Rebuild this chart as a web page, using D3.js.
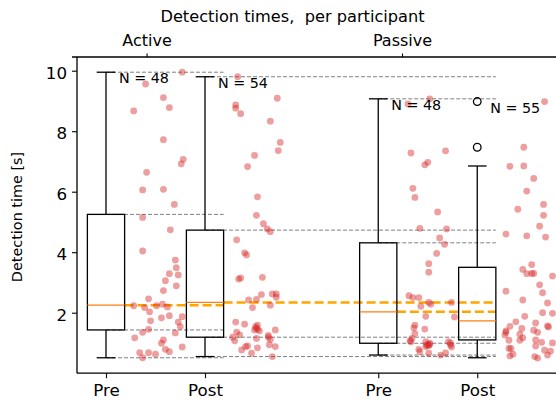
<!DOCTYPE html>
<html><head><meta charset="utf-8">
<script src="https://cdn.jsdelivr.net/npm/d3@7"></script>
<style>body{margin:0;background:#fff} svg{display:block;font-family:"DejaVu Sans",sans-serif}</style>
</head><body><svg id="c" width="556" height="404"></svg>
<script>
// ---------- data ----------
const categories = ["Pre", "Post", "Pre", "Post"];
const positions = [1, 2, 3.75, 4.75];
const groupLabels = ["Active", "Passive"];
const groupPositions = [1.41, 3.99];
const yTicks = [2, 4, 6, 8, 10];
const titleText = "Detection times,  per participant";
const yLabelText = "Detection time [s]";

// box stats: [low whisker, Q1, median, Q3, high whisker]
const activePreStats  = [0.51, 1.43, 2.25, 5.25, 9.95];
const activePostStats = [0.55, 1.19, 2.34, 4.73, 9.80];
const passivePreStats = [0.60, 0.99, 2.03, 4.31, 9.07];
const passivePostStats = [0.51, 1.10, 1.73, 3.50, 6.85];
const activePreOutliers = [];
const activePostOutliers = [];
const passivePreOutliers = [];
const passivePostOutliers = [8.98, 7.47];
// index of the box each group's reference lines run to
const compareTo = [1, 3, 3, null];

const activePreTimes = [9.95,9.56,9.11,8.78,8.67,7.72,7.07,6.92,6.64,6.06,6.08,5.58,5.15,4.74,4.04,3.74,3.49,3.29,3.25,3.06,2.89,2.73,2.46,2.23,2.17,2.23,2.28,2.19,2.03,1.90,1.83,1.87,1.73,1.69,1.54,1.45,1.35,1.33,1.17,1.10,0.99,0.87,0.79,0.71,0.68,0.68,0.63,0.51];
const activePreJitter = [0.77,0.40,0.58,0.64,0.28,0.58,0.78,0.76,0.41,0.37,0.58,0.69,0.37,0.65,0.37,0.70,0.71,0.64,0.73,0.60,0.71,0.58,0.43,0.28,0.39,0.51,0.57,0.62,0.44,0.64,0.56,0.77,0.45,0.73,0.75,0.43,0.37,0.70,0.29,0.58,0.56,0.77,0.60,0.64,0.34,0.43,0.50,0.37];

const activePostTimes = [9.80,9.09,8.87,8.76,8.58,8.33,7.63,7.36,7.20,6.83,5.83,5.22,4.94,4.77,4.68,4.41,3.98,3.91,3.11,3.15,3.17,2.60,2.62,2.62,2.51,2.25,2.42,2.44,2.17,1.69,1.62,1.59,1.49,1.43,1.40,1.43,1.36,1.27,1.19,1.07,1.15,1.25,1.12,0.94,0.88,0.90,0.88,0.77,0.84,0.66,0.55,1.54,1.19,1.45];
const activePostJitter = [0.33,0.73,0.31,0.31,0.36,0.66,0.76,0.74,0.50,0.43,0.53,0.52,0.59,0.63,0.66,0.32,0.40,0.42,0.34,0.36,0.58,0.57,0.68,0.72,0.72,0.66,0.44,0.52,0.48,0.31,0.40,0.53,0.52,0.50,0.55,0.71,0.32,0.35,0.28,0.30,0.52,0.64,0.66,0.65,0.71,0.43,0.41,0.37,0.53,0.47,0.68,0.51,0.64,0.53];

const passivePreTimes = [9.07,8.90,7.28,7.35,6.89,6.97,6.11,5.81,5.33,4.79,4.77,4.47,4.26,3.96,3.62,3.34,2.56,2.50,2.50,2.34,2.28,2.21,2.34,1.88,1.86,1.50,1.46,1.31,1.15,1.04,1.04,0.93,0.91,1.04,0.93,0.87,0.79,0.71,0.66,0.60,0.67,0.99,0.95,0.88,1.07,1.59,0.99,0.95];
const passivePreJitter = [0.52,0.30,0.33,0.68,0.47,0.50,0.35,0.37,0.60,0.42,0.69,0.62,0.67,0.59,0.51,0.51,0.31,0.35,0.41,0.51,0.53,0.43,0.74,0.48,0.77,0.36,0.47,0.37,0.34,0.33,0.48,0.49,0.51,0.71,0.73,0.74,0.41,0.42,0.51,0.63,0.68,0.52,0.50,0.48,0.32,0.37,0.73,0.52];

const passivePostTimes = [8.98,7.47,6.84,6.85,6.44,6.02,5.42,5.58,5.22,4.86,4.60,4.54,4.50,3.59,3.43,3.29,3.30,3.30,3.21,2.92,2.66,2.71,2.42,2.32,2.00,1.98,1.88,1.70,1.66,1.55,1.56,1.53,1.48,1.42,1.35,1.40,1.26,1.29,1.17,1.09,1.09,1.10,1.02,1.00,0.82,0.90,0.76,0.73,0.63,0.57,0.55,0.50,0.60,1.35,0.82];
const passivePostJitter = [0.68,0.47,0.33,0.47,0.57,0.50,0.41,0.67,0.67,0.63,0.29,0.50,0.69,0.55,0.46,0.50,0.55,0.57,0.76,0.63,0.66,0.29,0.46,0.71,0.66,0.76,0.48,0.39,0.59,0.33,0.71,0.72,0.45,0.57,0.61,0.29,0.28,0.43,0.46,0.43,0.32,0.59,0.65,0.76,0.34,0.59,0.68,0.74,0.36,0.33,0.58,0.61,0.71,0.29,0.32];

// ---------- build ----------
const groups = [
  {stats: activePreStats, out: activePreOutliers, t: activePreTimes, j: activePreJitter},
  {stats: activePostStats, out: activePostOutliers, t: activePostTimes, j: activePostJitter},
  {stats: passivePreStats, out: passivePreOutliers, t: passivePreTimes, j: passivePreJitter},
  {stats: passivePostStats, out: passivePostOutliers, t: passivePostTimes, j: passivePostJitter}
];

const svg = d3.select("#c");
const left = 77, bottom = 373.2, topY = 57;
const x = d3.scaleLinear().domain([1, 4.75]).range([106, 477.25]);
const y = d3.scaleLinear().domain([0, 10]).range([bottom, 70.7]);
const halfW = 0.188;

// reference lines
const lines = svg.append("g");
groups.forEach((g, i) => {
  const c = compareTo[i];
  if (c === null) return;
  const xEnd = x(positions[c] + halfW);
  [g.stats[0], g.stats[1], g.stats[3], g.stats[4]].forEach(v => {
    lines.append("line")
      .attr("x1", x(positions[i])).attr("x2", xEnd)
      .attr("y1", y(v)).attr("y2", y(v))
      .attr("stroke", "#808080").attr("stroke-width", 1)
      .attr("stroke-dasharray", "4,2");
  });
  lines.append("line")
    .attr("x1", x(positions[i] + halfW)).attr("x2", xEnd)
    .attr("y1", y(g.stats[2])).attr("y2", y(g.stats[2]))
    .attr("stroke", "#ffa500").attr("stroke-width", 2.5)
    .attr("stroke-dasharray", "9,4");
});

// boxes
const boxes = svg.append("g");
groups.forEach((g, i) => {
  const p = positions[i], s = g.stats;
  const st = (sel) => sel.attr("stroke", "#000").attr("stroke-width", 1.3).attr("fill", "none");
  st(boxes.append("rect")
    .attr("x", x(p - halfW)).attr("width", x(p + halfW) - x(p - halfW))
    .attr("y", y(s[3])).attr("height", y(s[1]) - y(s[3])));
  st(boxes.append("line").attr("x1", x(p)).attr("x2", x(p)).attr("y1", y(s[3])).attr("y2", y(s[4])));
  st(boxes.append("line").attr("x1", x(p)).attr("x2", x(p)).attr("y1", y(s[1])).attr("y2", y(s[0])));
  [s[0], s[4]].forEach(v => st(boxes.append("line")
    .attr("x1", x(p - halfW / 2)).attr("x2", x(p + halfW / 2)).attr("y1", y(v)).attr("y2", y(v))));
  boxes.append("line").attr("x1", x(p - halfW)).attr("x2", x(p + halfW))
    .attr("y1", y(s[2])).attr("y2", y(s[2]))
    .attr("stroke", "#ff7f0e").attr("stroke-width", 1.3);
  g.out.forEach(v => st(boxes.append("circle").attr("cx", x(p)).attr("cy", y(v)).attr("r", 3.8)));
});

// jittered points
const pts = svg.append("g");
groups.forEach((g, i) => {
  g.t.forEach((v, k) => {
    pts.append("circle")
      .attr("cx", x(positions[i] + g.j[k])).attr("cy", y(v)).attr("r", 3.4)
      .attr("fill", "#d62728").attr("fill-opacity", 0.45);
  });
});

// N labels
groups.forEach((g, i) => {
  const mx = d3.max(g.t.concat(g.out, [g.stats[4]]));
  svg.append("text").attr("x", x(positions[i] + 0.131)).attr("y", y(mx))
    .attr("dy", "0.78em").attr("font-size", 14.3).attr("fill", "#000")
    .text("N = " + g.t.length);
});

// axes
const yAxis = svg.append("g").attr("transform", `translate(${left},0)`)
  .call(d3.axisLeft(y).tickValues(yTicks).tickFormat(d3.format("d")).tickSize(5).tickPadding(5));
yAxis.select(".domain").remove();
yAxis.selectAll("text").attr("font-size", 16.7).attr("dy", "0.45em").attr("fill", "#000").attr("font-family", "DejaVu Sans");
yAxis.selectAll("line").attr("stroke-width", 1.1);

const xAxis = svg.append("g").attr("transform", `translate(0,${bottom})`)
  .call(d3.axisBottom(x).tickValues(positions).tickFormat((d, i) => categories[i]).tickSize(5).tickPadding(5.6));
xAxis.select(".domain").remove();
xAxis.selectAll("text").attr("font-size", 16.7).attr("fill", "#000").attr("font-family", "DejaVu Sans");
xAxis.selectAll("line").attr("stroke-width", 1.1);

const tAxis = svg.append("g").attr("transform", `translate(0,${topY})`)
  .call(d3.axisTop(x).tickValues(groupPositions).tickFormat((d, i) => groupLabels[i]).tickSize(3.5).tickPadding(7.5));
tAxis.select(".domain").remove();
tAxis.selectAll("text").attr("font-size", 16).attr("fill", "#000").attr("font-family", "DejaVu Sans");
tAxis.selectAll("line").attr("stroke-width", 1.1);

// spines
const sp = (x1, y1, x2, y2) => svg.append("line").attr("x1", x1).attr("y1", y1).attr("x2", x2).attr("y2", y2)
  .attr("stroke", "#000").attr("stroke-width", 1.3);
sp(left, topY, left, bottom);
sp(left, bottom, 556, bottom);
sp(72, topY, 556, topY);

// title and y label
svg.append("text").attr("x", 292.5).attr("y", 21.7).attr("text-anchor", "middle")
  .attr("font-size", 16.2).attr("fill", "#000").style("white-space", "pre").text(titleText);
svg.append("text").attr("transform", "translate(22.2,217) rotate(-90)").attr("text-anchor", "middle")
  .attr("font-size", 14.4).attr("fill", "#000").text(yLabelText);
</script></body></html>
